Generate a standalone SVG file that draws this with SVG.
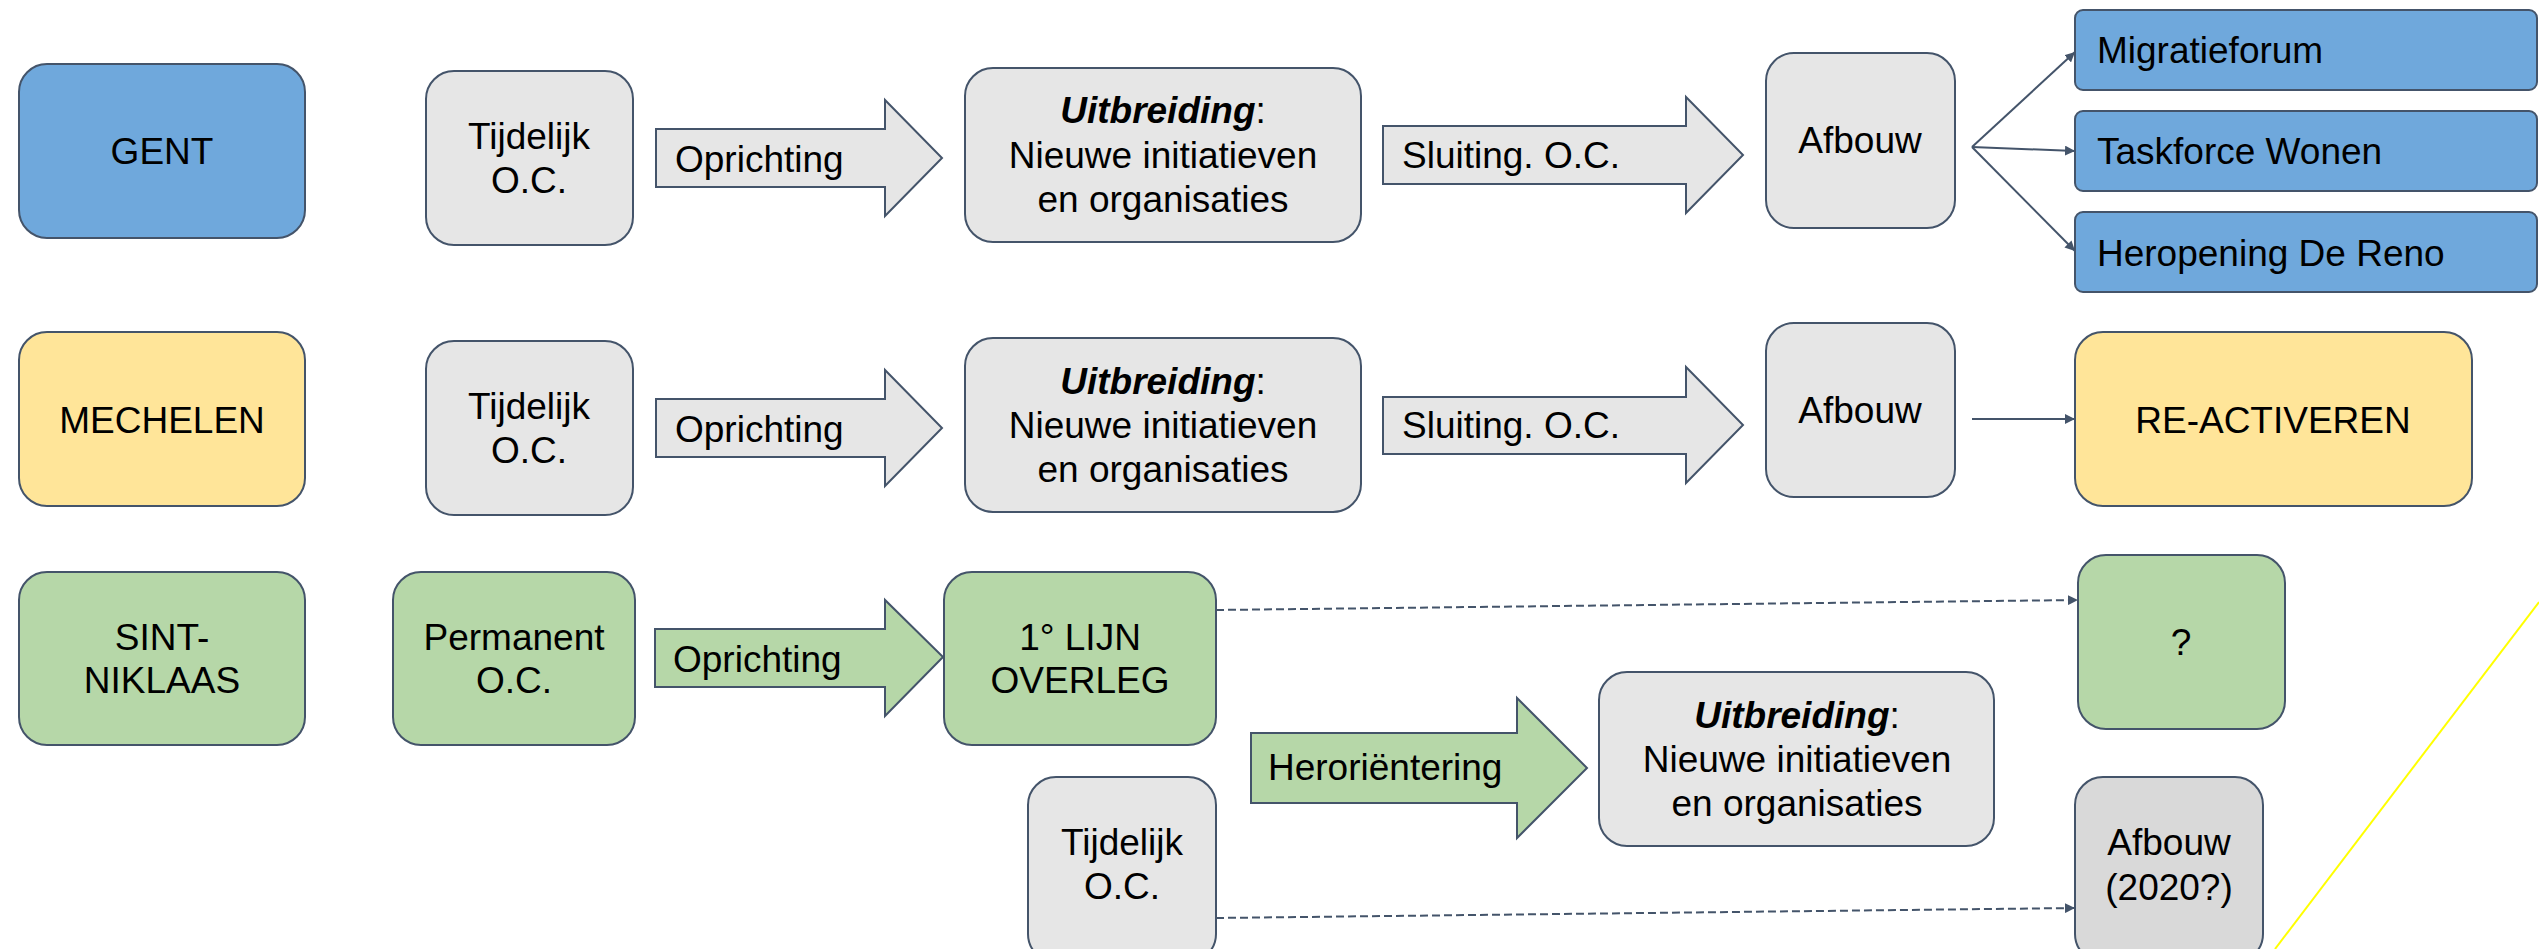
<svg xmlns="http://www.w3.org/2000/svg" width="2539" height="949" viewBox="0 0 2539 949">
<style>
text{font-family:"Liberation Sans",Arial,sans-serif;font-size:37px;fill:#000}
.c{text-anchor:middle}
.bx{stroke:#44546a;stroke-width:2}
.grey{fill:#e6e6e6}
.blue{fill:#6fa8dc}
.yel{fill:#ffe599}
.grn{fill:#b6d7a8}
.dgrey{fill:#d9d9d9}
.bi{font-weight:bold;font-style:italic}
.ln{stroke:#44546a;stroke-width:2;fill:none}
.dash{stroke-dasharray:8,4}
</style>
<defs>
<marker id="ah" viewBox="0 0 10 10" refX="10" refY="5" markerWidth="5" markerHeight="5" orient="auto" markerUnits="strokeWidth">
<path d="M0,0 L10,5 L0,10 z" fill="#44546a"/>
</marker>
</defs>
<rect width="2539" height="949" fill="#fff"/>

<!-- Row 1 GENT -->
<g id="gent"><rect class="bx blue" x="19" y="64" width="286" height="174" rx="28"/><text class="c" x="162" y="164">GENT</text></g>
<g id="tijdelijk1"><rect class="bx grey" x="426" y="71" width="207" height="174" rx="28"/><text class="c" x="529" y="149">Tijdelijk</text><text class="c" x="529" y="193">O.C.</text></g>
<g id="oprichting1"><path class="bx grey" d="M656,129 H885 V100 L942,158 L885,216 V187 H656 Z"/><text x="675" y="172">Oprichting</text></g>
<g id="uitbreiding1"><rect class="bx grey" x="965" y="68" width="396" height="174" rx="28"/><text class="c" x="1163" y="123"><tspan class="bi">Uitbreiding</tspan>:</text><text class="c" x="1163" y="168">Nieuwe initiatieven</text><text class="c" x="1163" y="212">en organisaties</text></g>
<g id="sluiting1"><path class="bx grey" d="M1383,126 H1686 V97 L1743,155 L1686,213 V184 H1383 Z"/><text x="1402" y="168">Sluiting. O.C.</text></g>
<g id="afbouw1"><rect class="bx grey" x="1766" y="53" width="189" height="175" rx="28"/><text class="c" x="1860" y="153">Afbouw</text></g>
<g id="migratieforum"><rect class="bx blue" x="2075" y="10" width="462" height="80" rx="8"/><text x="2097" y="63">Migratieforum</text></g>
<g id="taskforce"><rect class="bx blue" x="2075" y="111" width="462" height="80" rx="8"/><text x="2097" y="164">Taskforce Wonen</text></g>
<g id="heropening"><rect class="bx blue" x="2075" y="212" width="462" height="80" rx="8"/><text x="2097" y="266">Heropening De Reno</text></g>

<!-- Row 2 MECHELEN -->
<g id="mechelen"><rect class="bx yel" x="19" y="332" width="286" height="174" rx="28"/><text class="c" x="162" y="433">MECHELEN</text></g>
<g id="tijdelijk2"><rect class="bx grey" x="426" y="341" width="207" height="174" rx="28"/><text class="c" x="529" y="419">Tijdelijk</text><text class="c" x="529" y="463">O.C.</text></g>
<g id="oprichting2"><path class="bx grey" d="M656,399 H885 V370 L942,428 L885,486 V457 H656 Z"/><text x="675" y="442">Oprichting</text></g>
<g id="uitbreiding2"><rect class="bx grey" x="965" y="338" width="396" height="174" rx="28"/><text class="c" x="1163" y="394"><tspan class="bi">Uitbreiding</tspan>:</text><text class="c" x="1163" y="438">Nieuwe initiatieven</text><text class="c" x="1163" y="482">en organisaties</text></g>
<g id="sluiting2"><path class="bx grey" d="M1383,397 H1686 V367 L1743,425 L1686,483 V454 H1383 Z"/><text x="1402" y="438">Sluiting. O.C.</text></g>
<g id="afbouw2"><rect class="bx grey" x="1766" y="323" width="189" height="174" rx="28"/><text class="c" x="1860" y="423">Afbouw</text></g>
<g id="reactiveren"><rect class="bx yel" x="2075" y="332" width="397" height="174" rx="28"/><text class="c" x="2273" y="433">RE-ACTIVEREN</text></g>

<!-- Row 3 SINT-NIKLAAS -->
<g id="sintniklaas"><rect class="bx grn" x="19" y="572" width="286" height="173" rx="28"/><text class="c" x="162" y="650">SINT-</text><text class="c" x="162" y="693">NIKLAAS</text></g>
<g id="permanent"><rect class="bx grn" x="393" y="572" width="242" height="173" rx="28"/><text class="c" x="514" y="650">Permanent</text><text class="c" x="514" y="693">O.C.</text></g>
<g id="oprichting3"><path class="bx grn" d="M655,629 H885 V600 L943,657 L885,716 V687 H655 Z"/><text x="673" y="672">Oprichting</text></g>
<g id="lijnoverleg"><rect class="bx grn" x="944" y="572" width="272" height="173" rx="28"/><text class="c" x="1080" y="650">1° LIJN</text><text class="c" x="1080" y="693">OVERLEG</text></g>
<g id="tijdelijk3"><rect class="bx grey" x="1028" y="777" width="188" height="185" rx="28"/><text class="c" x="1122" y="855">Tijdelijk</text><text class="c" x="1122" y="899">O.C.</text></g>
<g id="herorientering"><path class="bx grn" d="M1251,733 H1517 V698 L1587,768 L1517,838 V803 H1251 Z"/><text x="1268" y="780">Heroriëntering</text></g>
<g id="uitbreiding3"><rect class="bx grey" x="1599" y="672" width="395" height="174" rx="28"/><text class="c" x="1797" y="728"><tspan class="bi">Uitbreiding</tspan>:</text><text class="c" x="1797" y="772">Nieuwe initiatieven</text><text class="c" x="1797" y="816">en organisaties</text></g>
<g id="vraag"><rect class="bx grn" x="2078" y="555" width="207" height="174" rx="28"/><text class="c" x="2181" y="655">?</text></g>
<g id="afbouw2020"><rect class="bx dgrey" x="2075" y="777" width="188" height="185" rx="28"/><text class="c" x="2169" y="855">Afbouw</text><text class="c" x="2169" y="900">(2020?)</text></g>

<!-- Connectors -->
<g id="connectors">
<line class="ln" x1="1972" y1="147" x2="2075" y2="52" marker-end="url(#ah)"/>
<line class="ln" x1="1972" y1="147" x2="2075" y2="151" marker-end="url(#ah)"/>
<line class="ln" x1="1972" y1="147" x2="2075" y2="251" marker-end="url(#ah)"/>
<line class="ln" x1="1972" y1="419" x2="2075" y2="419" marker-end="url(#ah)"/>
<line class="ln dash" x1="1216" y1="610" x2="2078" y2="600" marker-end="url(#ah)"/>
<line class="ln dash" x1="1216" y1="918" x2="2075" y2="908" marker-end="url(#ah)"/>
</g>
<line x1="2539" y1="602" x2="2275" y2="949" stroke="#ffff00" stroke-width="2"/>
</svg>
